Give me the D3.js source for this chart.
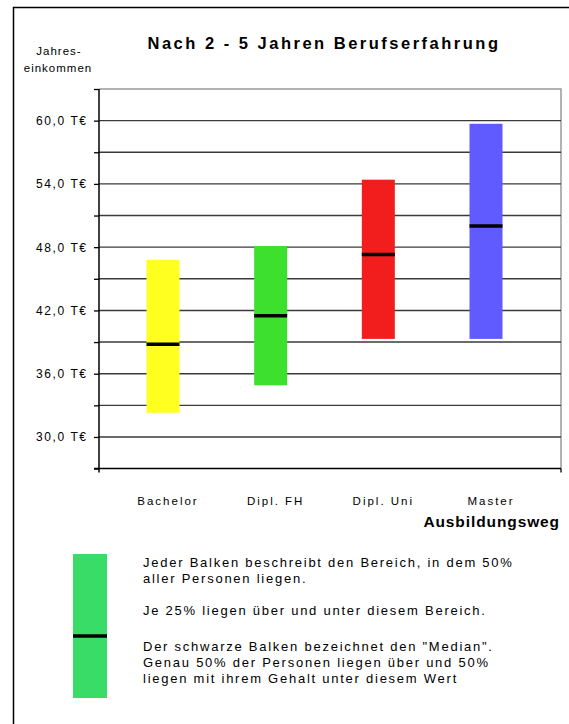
<!DOCTYPE html>
<html>
<head>
<meta charset="utf-8">
<script src="https://cdn.jsdelivr.net/npm/d3@7/dist/d3.min.js"></script>
<style>
  html, body { margin: 0; padding: 0; background: #fff; }
  svg { display: block; font-family: "Liberation Sans", Arial, sans-serif; }
</style>
</head>
<body>
<svg id="chart" width="569" height="724"></svg>
<script>
// Annual income ranges (interquartile) and medians by education path, in T€
const categories = ["Bachelor", "Dipl. FH", "Dipl. Uni", "Master"];
const lowerQuartile = [32.3, 34.9, 39.3, 39.3];
const upperQuartile = [46.8, 48.1, 54.4, 59.7];
const medians = [38.8, 41.5, 47.3, 50.0];
const barColors = ["#ffff20", "#3ee02e", "#f21e1e", "#5f5bff"];
const yLabelTicks = [30, 36, 42, 48, 54, 60];
const legendLines = [
  "Jeder Balken beschreibt den Bereich, in dem 50%",
  "aller Personen liegen.",
  "",
  "Je 25% liegen über und unter diesem Bereich.",
  "",
  "Der schwarze Balken bezeichnet den \"Median\".",
  "Genau 50% der Personen liegen über und 50%",
  "liegen mit ihrem Gehalt unter diesem Wert"
];
const legendExample = { low: 0, high: 1, median: 0.43 };

const svg = d3.select("#chart");

// outer frame
svg.append("rect")
  .attr("x", 13.5).attr("y", 7.5)
  .attr("width", 600).attr("height", 760)
  .attr("fill", "none").attr("stroke", "#000").attr("stroke-width", 1.5);

const plot = { left: 99, right: 561, top: 89, bottom: 468.6 };

const y = d3.scaleLinear().domain([27, 63]).range([plot.bottom, plot.top]);
const x = d3.scalePoint().domain(categories).range([163, 486]);
const barW = 33;

// plot frame (top and right)
svg.append("path")
  .attr("d", `M${plot.left},${plot.top}H${plot.right}V${plot.bottom}`)
  .attr("fill", "none").attr("stroke", "#9a9a9a").attr("stroke-width", 1.5);

// horizontal gridlines
svg.append("g").selectAll("line")
  .data(d3.range(30, 61, 3))
  .join("line")
  .attr("x1", plot.left).attr("x2", plot.right)
  .attr("y1", d => y(d)).attr("y2", d => y(d))
  .attr("stroke", "#3a3a3a").attr("stroke-width", 1.4);

// y axis
const yAxis = d3.axisLeft(y)
  .tickValues(d3.range(27, 64, 3))
  .tickSize(5)
  .tickPadding(8)
  .tickFormat(d => yLabelTicks.includes(d) ? d3.format(".1f")(d).replace(".", ",") + " T€" : "");
const gy = svg.append("g").attr("transform", `translate(${plot.left},0)`).call(yAxis);
gy.select(".domain").attr("stroke", "#000").attr("stroke-width", 1.5)
  .attr("d", `M0,${plot.top}V${plot.bottom + 4}`);
gy.selectAll(".tick line").attr("stroke", "#000").attr("stroke-width", 1.3);
gy.selectAll(".tick text")
  .attr("font-size", 12).attr("fill", "#000")
  .attr("letter-spacing", 1.6)
  .attr("dx", 1.6)
  .attr("font-family", "\"Liberation Sans\", Arial, sans-serif");

// x axis line
svg.append("line")
  .attr("x1", plot.left - 5).attr("x2", plot.right)
  .attr("y1", plot.bottom).attr("y2", plot.bottom)
  .attr("stroke", "#000").attr("stroke-width", 1.5);
svg.append("line")
  .attr("x1", plot.right).attr("x2", plot.right)
  .attr("y1", plot.bottom).attr("y2", plot.bottom + 4)
  .attr("stroke", "#000").attr("stroke-width", 1.3);

// range bars
const bars = svg.append("g");
bars.selectAll("rect")
  .data(categories)
  .join("rect")
  .attr("x", d => x(d) - barW / 2)
  .attr("width", barW)
  .attr("y", (d, i) => y(upperQuartile[i]))
  .attr("height", (d, i) => y(lowerQuartile[i]) - y(upperQuartile[i]))
  .attr("fill", (d, i) => barColors[i]);

// median markers
bars.selectAll("line.median")
  .data(categories)
  .join("line")
  .attr("class", "median")
  .attr("x1", d => x(d) - barW / 2).attr("x2", d => x(d) + barW / 2)
  .attr("y1", (d, i) => y(medians[i])).attr("y2", (d, i) => y(medians[i]))
  .attr("stroke", "#000").attr("stroke-width", 3.5);

// category labels
svg.append("g").selectAll("text")
  .data(categories)
  .join("text")
  .attr("x", d => x(d) + 5)
  .attr("y", 505)
  .attr("text-anchor", "middle")
  .attr("font-size", 11.5).attr("letter-spacing", 2)
  .text(d => d);

// axis titles
svg.append("text")
  .attr("x", 560).attr("y", 527)
  .attr("text-anchor", "end")
  .attr("font-size", 15.5).attr("font-weight", "bold")
  .attr("letter-spacing", 0.9)
  .text("Ausbildungsweg");

const yTitle = svg.append("text")
  .attr("text-anchor", "middle")
  .attr("font-size", 11.5).attr("letter-spacing", 1);
yTitle.append("tspan").attr("x", 59).attr("y", 55).text("Jahres-");
yTitle.append("tspan").attr("x", 58).attr("y", 72).text("einkommen");

// chart title
svg.append("text")
  .attr("x", 324).attr("y", 49)
  .attr("text-anchor", "middle")
  .attr("font-size", 16.5).attr("font-weight", "bold")
  .attr("letter-spacing", 2.5)
  .text("Nach 2 - 5 Jahren Berufserfahrung");

// explanatory legend
const ly = d3.scaleLinear().domain([0, 1]).range([698, 554]);
svg.append("rect")
  .attr("x", 73).attr("width", 34)
  .attr("y", ly(legendExample.high))
  .attr("height", ly(legendExample.low) - ly(legendExample.high))
  .attr("fill", "#38dc66");
svg.append("line")
  .attr("x1", 73).attr("x2", 107)
  .attr("y1", ly(legendExample.median)).attr("y2", ly(legendExample.median))
  .attr("stroke", "#000").attr("stroke-width", 3.5);

svg.append("g").selectAll("text")
  .data(legendLines)
  .join("text")
  .attr("x", 143)
  .attr("y", (d, i) => 567 + i * 16 + (i >= 5 ? 4 : 0))
  .attr("font-size", 13).attr("letter-spacing", 1.75)
  .text(d => d);
</script>
</body>
</html>
